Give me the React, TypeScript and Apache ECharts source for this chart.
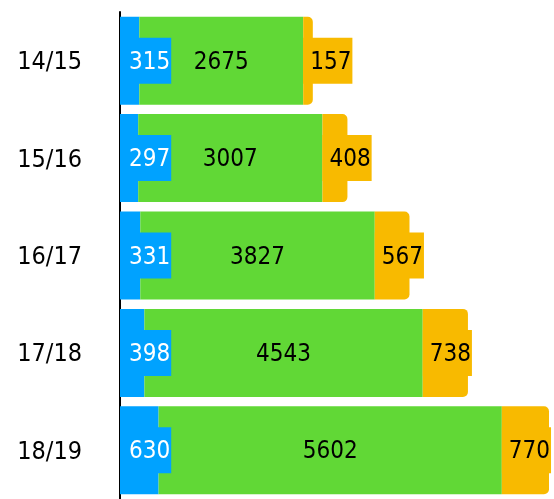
import React, { useEffect, useRef } from "react";
import * as echarts from "echarts";

const categories = ["14/15", "15/16", "16/17", "17/18", "18/19"];
const blueValues = [315, 297, 331, 398, 630];
const greenValues = [2675, 3007, 3827, 4543, 5602];
const orangeValues = [157, 408, 567, 738, 770];

const FONT = "'DejaVu Sans Condensed', 'Noto Sans', sans-serif";
const BLUE = "#00A2FF";
const GREEN = "#61D836";
const ORANGE = "#F8BA00";
const VALUE_SIZE = 24;

export default function App() {
  const ref = useRef<HTMLDivElement>(null);
  useEffect(() => {
    if (!ref.current) return;
    const chart = echarts.init(ref.current, null, { renderer: "svg" });
    chart.setOption({
      animation: false,
      grid: { left: 120, right: 5, top: 12, bottom: -2, containLabel: false },
      xAxis: { type: "value", show: false, min: 0, max: "dataMax" },
      yAxis: {
        type: "category",
        inverse: true,
        data: categories,
        axisLine: { show: true, lineStyle: { color: "#000", width: 2 } },
        axisTick: { show: false },
        axisLabel: { color: "#000", fontSize: 25, fontFamily: FONT, margin: 38, padding: [4, 0, 0, 0] },
      },
      series: [
        {
          type: "bar",
          stack: "a",
          data: blueValues,
          barWidth: 88,
          itemStyle: { color: BLUE },
          label: {
            show: true,
            position: "insideLeft",
            distance: 0,
            color: "#fff",
            fontSize: VALUE_SIZE,
            fontFamily: FONT,
            lineHeight: 26,
            backgroundColor: BLUE,
            padding: [10, 1, 10, 9],
          },
        },
        {
          type: "bar",
          stack: "a",
          data: greenValues,
          barWidth: 88,
          itemStyle: { color: GREEN },
          label: {
            show: true,
            position: "inside",
            color: "#000",
            fontSize: VALUE_SIZE,
            fontFamily: FONT,
          },
        },
        {
          type: "bar",
          stack: "a",
          data: orangeValues,
          barWidth: 88,
          itemStyle: { color: ORANGE, borderRadius: [0, 5, 5, 0] },
          label: {
            show: true,
            position: "insideLeft",
            distance: 0,
            color: "#000",
            fontSize: VALUE_SIZE,
            fontFamily: FONT,
            lineHeight: 26,
            backgroundColor: ORANGE,
            padding: [10, 1, 10, 7],
          },
        },
      ],
    });
    return () => chart.dispose();
  }, []);
  return (
    <div
      ref={ref}
      style={{ position: "fixed", left: 0, top: 0, width: 554, height: 499 }}
    />
  );
}
